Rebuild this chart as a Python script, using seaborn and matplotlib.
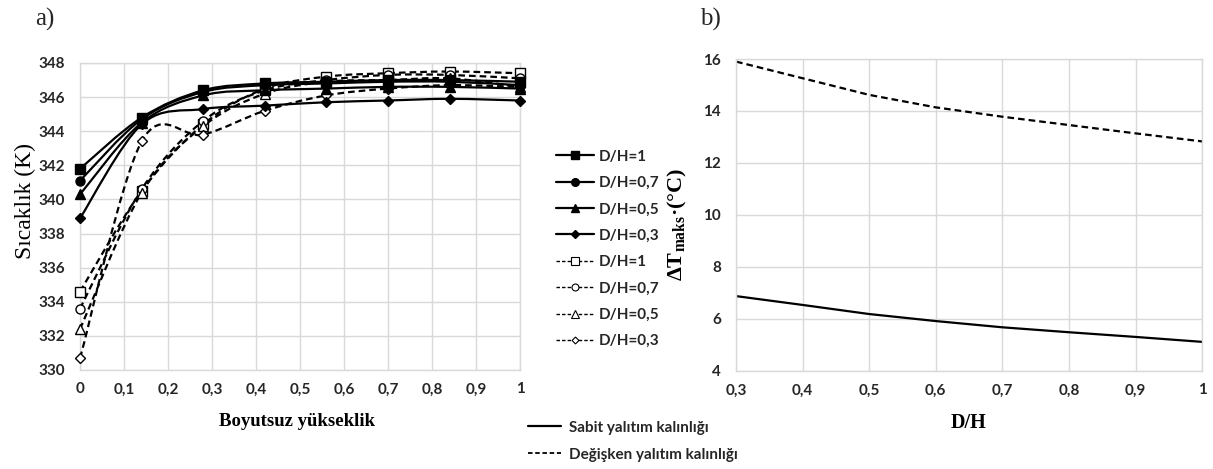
import numpy as np
import matplotlib
matplotlib.use("Agg")
import matplotlib.pyplot as plt
from matplotlib.path import Path
from matplotlib.patches import PathPatch
from matplotlib.lines import Line2D
import seaborn as sns
import pandas as pd

# ---------------- data ----------------
height_x = [0, 0.14, 0.28, 0.42, 0.56, 0.70, 0.84, 1.0]
dh_labels = ["D/H=1", "D/H=0,7", "D/H=0,5", "D/H=0,3"]

fixed_T = {
    "D/H=1":   [341.8, 344.8, 346.4, 346.8, 346.9, 347.0, 347.0, 346.9],
    "D/H=0,7": [341.1, 344.7, 346.3, 346.7, 346.8, 346.9, 346.9, 346.7],
    "D/H=0,5": [340.3, 344.5, 346.1, 346.4, 346.5, 346.6, 346.6, 346.5],
    "D/H=0,3": [338.9, 344.4, 345.3, 345.5, 345.7, 345.8, 345.9, 345.8],
}
variable_T = {
    "D/H=1":   [334.6, 340.5, 344.4, 346.5, 347.2, 347.4, 347.5, 347.4],
    "D/H=0,7": [333.6, 340.6, 344.6, 346.4, 347.0, 347.3, 347.3, 347.1],
    "D/H=0,5": [332.4, 340.4, 344.3, 346.2, 346.9, 347.0, 347.1, 346.6],
    "D/H=0,3": [330.7, 343.4, 343.8, 345.2, 346.1, 346.5, 346.7, 346.6],
}

dh_x = [0.3, 0.4, 0.5, 0.6, 0.7, 0.8, 0.9, 1.0]
dT_fixed = [6.88, 6.54, 6.19, 5.92, 5.68, 5.49, 5.31, 5.12]
dT_variable = [15.9, 15.26, 14.62, 14.14, 13.78, 13.46, 13.14, 12.83]

x_ticks_a = [0, 0.1, 0.2, 0.3, 0.4, 0.5, 0.6, 0.7, 0.8, 0.9, 1]
x_ticklabels_a = ["0", "0,1", "0,2", "0,3", "0,4", "0,5", "0,6", "0,7", "0,8", "0,9", "1"]
y_ticks_a = list(range(330, 349, 2))
x_ticks_b = [0.3, 0.4, 0.5, 0.6, 0.7, 0.8, 0.9, 1.0]
x_ticklabels_b = ["0,3", "0,4", "0,5", "0,6", "0,7", "0,8", "0,9", "1"]
y_ticks_b = [4, 6, 8, 10, 12, 14, 16]

legend_fixed = "Sabit yalıtım kalınlığı"
legend_variable = "Değişken yalıtım kalınlığı"

# ---------------- style ----------------
sns.set_theme(style="white")
plt.rcParams["font.family"] = ["Lato", "DejaVu Sans"]
plt.rcParams["mathtext.fontset"] = "custom"

SERIF = ["Liberation Serif", "DejaVu Serif"]
SANS = ["Lato", "DejaVu Sans"]
GRID = "#d9d9d9"
TICKC = "#262626"

markers = {"D/H=1": "s", "D/H=0,7": "o", "D/H=0,5": "^", "D/H=0,3": "D"}
msizes = {"D/H=1": 7, "D/H=0,7": 6.5, "D/H=0,5": 7, "D/H=0,3": 5}
DASH = (0, (3.0, 1.8))


def smooth_path(x, y):
    """Excel-like smoothed line: cubic Bezier through the points."""
    x = np.asarray(x, float)
    y = np.asarray(y, float)
    n = len(x)
    verts = [(x[0], y[0])]
    codes = [Path.MOVETO]
    for i in range(n - 1):
        i0 = max(i - 1, 0)
        i3 = min(i + 2, n - 1)
        c1 = (x[i] + (x[i + 1] - x[i0]) / 6.0, y[i] + (y[i + 1] - y[i0]) / 6.0)
        c2 = (x[i + 1] - (x[i3] - x[i]) / 6.0, y[i + 1] - (y[i3] - y[i]) / 6.0)
        verts += [c1, c2, (x[i + 1], y[i + 1])]
        codes += [Path.CURVE4] * 3
    return Path(verts, codes)


fig = plt.figure(figsize=(12.13, 4.69), dpi=100)
axA = fig.add_axes([0.066, 0.2111, 0.3627, 0.6546])
axB = fig.add_axes([0.6068, 0.2090, 0.3842, 0.6652])

# ---------------- panel a ----------------
rows = []
for kind, table in (("fixed", fixed_T), ("variable", variable_T)):
    for lab in dh_labels:
        for xv, yv in zip(height_x, table[lab]):
            rows.append({"kind": kind, "dh": lab, "x": xv, "T": yv})
dfA = pd.DataFrame(rows)

for kind in ("variable", "fixed"):
    for lab in dh_labels:
        sub = dfA[(dfA.kind == kind) & (dfA.dh == lab)]
        ls = "-" if kind == "fixed" else DASH
        patch = PathPatch(smooth_path(sub.x.values, sub["T"].values), fill=False,
                          edgecolor="black", lw=1.6, linestyle=ls, zorder=3)
        axA.add_patch(patch)
        sns.lineplot(data=sub, x="x", y="T", ax=axA, linestyle="", marker=markers[lab],
                     markersize=msizes[lab],
                     markerfacecolor=("black" if kind == "fixed" else "white"),
                     markeredgecolor="black", markeredgewidth=1.0, color="black",
                     legend=False, zorder=4, clip_on=False)

axA.set_xlim(0, 1)
axA.set_ylim(330, 348)
axA.set_xticks(x_ticks_a)
axA.set_xticklabels(x_ticklabels_a)
axA.set_yticks(y_ticks_a)
axA.set_xlabel("Boyutsuz yükseklik", family=SERIF, fontsize=13.5, fontweight="bold", color="black")
axA.set_ylabel("Sıcaklık (K)", family=SERIF, fontsize=17, color="black")
axA.xaxis.set_label_coords(0.493, -0.14)
axA.yaxis.set_label_coords(-0.1, 0.55)

# legend for panel a
hands = []
for lab in dh_labels:
    hands.append(Line2D([], [], color="black", lw=1.6, marker=markers[lab],
                        markersize=msizes[lab] - 1, markerfacecolor="black"))
for lab in dh_labels:
    hands.append(Line2D([], [], color="black", lw=1.0, linestyle=(0, (2.5, 1.5)),
                        marker=markers[lab], markersize=msizes[lab] - 1.5,
                        markerfacecolor="white", markeredgewidth=0.8))
fig.legend(hands, dh_labels + dh_labels, loc="upper left",
           bbox_to_anchor=(548 / 1213, 1 - 142 / 469), frameon=False,
           borderpad=0, handlelength=2.5, handletextpad=0.3, labelspacing=0.81,
           prop={"family": SANS, "weight": "bold", "size": 11})

# ---------------- panel b ----------------
dfB = pd.DataFrame({
    "DH": dh_x * 2,
    "dT": dT_fixed + dT_variable,
    "kind": [legend_fixed] * len(dh_x) + [legend_variable] * len(dh_x),
})
sns.lineplot(data=dfB[dfB.kind == legend_variable], x="DH", y="dT", ax=axB,
             color="black", lw=1.6, linestyle=DASH, legend=False)
sns.lineplot(data=dfB[dfB.kind == legend_fixed], x="DH", y="dT", ax=axB,
             color="black", lw=1.6, legend=False)
axB.set_xlim(0.3, 1.0)
axB.set_ylim(4, 16)
axB.set_xticks(x_ticks_b)
axB.set_xticklabels(x_ticklabels_b)
axB.set_yticks(y_ticks_b)
axB.set_xlabel("D/H", family=SERIF, fontsize=14.5, fontweight="bold", color="black")
axB.set_ylabel("ΔT$_{\\mathregular{maks}}$·(°C)", family=SERIF, fontsize=16,
               fontweight="bold", color="black")
axB.xaxis.set_label_coords(0.498, -0.135)
axB.yaxis.set_label_coords(-0.1, 0.47)

for ax in (axA, axB):
    ax.grid(True, color=GRID, lw=1.0)
    ax.set_axisbelow(True)
    for s in ax.spines.values():
        s.set_color(GRID)
        s.set_linewidth(1.0)
    ax.tick_params(length=0, labelsize=11, colors=TICKC)
    ax.tick_params(axis="y", pad=11)
    ax.tick_params(axis="x", pad=9)
    for t in ax.get_xticklabels() + ax.get_yticklabels():
        t.set_fontweight("bold")
        t.set_family(SANS)

# bottom legend
fig.legend([Line2D([], [], color="black", lw=1.6),
            Line2D([], [], color="black", lw=1.3, linestyle=(0, (2.5, 1.5)))],
           [legend_fixed, legend_variable], loc="upper left",
           bbox_to_anchor=(520 / 1213, 1 - 413 / 469), frameon=False,
           borderpad=0, handlelength=2.2, handletextpad=0.5, labelspacing=0.85,
           prop={"family": SANS, "weight": "bold", "size": 11})

fig.text(35 / 1213, 1 - 19 / 469, "a)", family=SERIF, fontsize=18, va="center", ha="left")
fig.text(700 / 1213, 1 - 19 / 469, "b)", family=SERIF, fontsize=18, va="center", ha="left")

fig.savefig("out.png", dpi=100)
